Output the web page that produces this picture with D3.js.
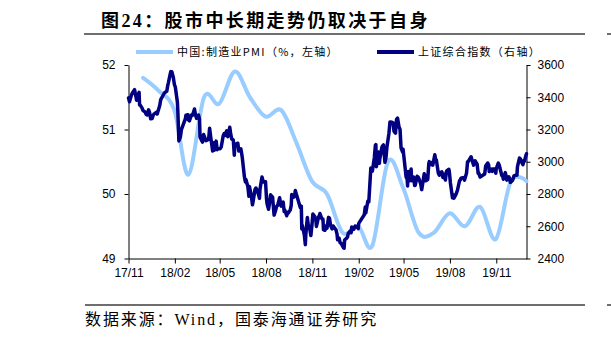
<!DOCTYPE html>
<html><head><meta charset="utf-8">
<script src="https://cdn.jsdelivr.net/npm/d3@7"></script>
<style>
html,body{margin:0;padding:0;background:#fff;}
svg{display:block;}
</style></head>
<body>
<svg id="c" width="611" height="338"></svg>
<script>
// ---- data ----
const titleText = "图24：股市中长期走势仍取决于自身";
const sourceText = "数据来源：Wind，国泰海通证券研究";
const seriesNames = ["中国:制造业PMI（%，左轴）", "上证综合指数（右轴）"];
const xTickLabels = ["17/11","18/02","18/05","18/08","18/11","19/02","19/05","19/08","19/11"];
const leftTicks = [49, 50, 51, 52];
const rightTicks = [2400, 2600, 2800, 3000, 3200, 3400, 3600];

const pmiMonths = ["2017-11","2017-12","2018-01","2018-02","2018-03","2018-04","2018-05","2018-06","2018-07","2018-08","2018-09","2018-10","2018-11","2018-12","2019-01","2019-02","2019-03","2019-04","2019-05","2019-06","2019-07","2019-08","2019-09","2019-10","2019-11","2019-12"];
const pmiValues = [51.8,51.6,51.3,50.3,51.5,51.4,51.9,51.5,51.2,51.3,50.8,50.2,50.0,49.4,49.5,49.2,50.5,50.1,49.4,49.4,49.7,49.5,49.8,49.3,50.2,50.2];

const sseDates = [
"2017-11-01","2017-11-03","2017-11-07","2017-11-10","2017-11-13","2017-11-16","2017-11-17","2017-11-22","2017-11-23","2017-11-24","2017-11-28","2017-11-30",
"2017-12-04","2017-12-06","2017-12-08","2017-12-11","2017-12-13","2017-12-15","2017-12-18","2017-12-20","2017-12-22","2017-12-26","2017-12-28","2017-12-29",
"2018-01-02","2018-01-04","2018-01-05","2018-01-09","2018-01-11","2018-01-12","2018-01-16","2018-01-18","2018-01-19","2018-01-23","2018-01-24","2018-01-26","2018-01-29","2018-01-31",
"2018-02-02","2018-02-06","2018-02-07","2018-02-09","2018-02-12","2018-02-14","2018-02-22","2018-02-23","2018-02-27","2018-02-28",
"2018-03-02","2018-03-06","2018-03-08","2018-03-12","2018-03-14","2018-03-16","2018-03-20","2018-03-22","2018-03-23","2018-03-26","2018-03-28","2018-03-30",
"2018-04-03","2018-04-04","2018-04-09","2018-04-11","2018-04-13","2018-04-17","2018-04-19","2018-04-20","2018-04-24","2018-04-26","2018-04-27",
"2018-05-02","2018-05-04","2018-05-08","2018-05-10","2018-05-11","2018-05-15","2018-05-17","2018-05-21","2018-05-23","2018-05-25","2018-05-28","2018-05-30","2018-05-31",
"2018-06-04","2018-06-06","2018-06-08","2018-06-12","2018-06-14","2018-06-15","2018-06-19","2018-06-21","2018-06-22","2018-06-26","2018-06-28","2018-06-29",
"2018-07-03","2018-07-05","2018-07-06","2018-07-10","2018-07-12","2018-07-13","2018-07-17","2018-07-19","2018-07-20","2018-07-24","2018-07-26","2018-07-27","2018-07-31",
"2018-08-02","2018-08-03","2018-08-06","2018-08-08","2018-08-10","2018-08-14","2018-08-16","2018-08-17","2018-08-20","2018-08-22","2018-08-24","2018-08-28","2018-08-30","2018-08-31",
"2018-09-04","2018-09-06","2018-09-07","2018-09-11","2018-09-13","2018-09-14","2018-09-18","2018-09-20","2018-09-21","2018-09-25","2018-09-27","2018-09-28",
"2018-10-08","2018-10-10","2018-10-11","2018-10-12","2018-10-16","2018-10-18","2018-10-19","2018-10-22","2018-10-24","2018-10-26","2018-10-29","2018-10-31",
"2018-11-02","2018-11-06","2018-11-08","2018-11-09","2018-11-13","2018-11-15","2018-11-16","2018-11-20","2018-11-22","2018-11-23","2018-11-26","2018-11-28","2018-11-30",
"2018-12-03","2018-12-05","2018-12-07","2018-12-10","2018-12-12","2018-12-14","2018-12-18","2018-12-20","2018-12-21","2018-12-24","2018-12-26","2018-12-28",
"2019-01-02","2019-01-03","2019-01-04","2019-01-08","2019-01-10","2019-01-11","2019-01-15","2019-01-17","2019-01-18","2019-01-22","2019-01-24","2019-01-25","2019-01-29","2019-01-31",
"2019-02-01","2019-02-12","2019-02-14","2019-02-15","2019-02-19","2019-02-21","2019-02-22","2019-02-25","2019-02-26","2019-02-28",
"2019-03-04","2019-03-06","2019-03-07","2019-03-08","2019-03-12","2019-03-14","2019-03-15","2019-03-19","2019-03-21","2019-03-22","2019-03-25","2019-03-27","2019-03-29",
"2019-04-02","2019-04-04","2019-04-08","2019-04-10","2019-04-12","2019-04-15","2019-04-17","2019-04-19","2019-04-22","2019-04-24","2019-04-26","2019-04-29","2019-04-30",
"2019-05-06","2019-05-08","2019-05-09","2019-05-10","2019-05-14","2019-05-16","2019-05-17","2019-05-21","2019-05-23","2019-05-24","2019-05-28","2019-05-30","2019-05-31",
"2019-06-04","2019-06-06","2019-06-11","2019-06-13","2019-06-14","2019-06-18","2019-06-20","2019-06-21","2019-06-25","2019-06-27","2019-06-28",
"2019-07-02","2019-07-04","2019-07-05","2019-07-09","2019-07-11","2019-07-12","2019-07-16","2019-07-18","2019-07-19","2019-07-23","2019-07-25","2019-07-26","2019-07-30","2019-07-31",
"2019-08-02","2019-08-06","2019-08-08","2019-08-09","2019-08-13","2019-08-15","2019-08-16","2019-08-20","2019-08-22","2019-08-23","2019-08-27","2019-08-29","2019-08-30",
"2019-09-03","2019-09-05","2019-09-06","2019-09-10","2019-09-12","2019-09-17","2019-09-19","2019-09-20","2019-09-24","2019-09-26","2019-09-27","2019-09-30",
"2019-10-09","2019-10-11","2019-10-15","2019-10-17","2019-10-18","2019-10-22","2019-10-24","2019-10-25","2019-10-29","2019-10-31",
"2019-11-01","2019-11-05","2019-11-07","2019-11-08","2019-11-12","2019-11-14","2019-11-15","2019-11-19","2019-11-21","2019-11-22","2019-11-26","2019-11-28","2019-11-29",
"2019-12-03","2019-12-05","2019-12-06","2019-12-10","2019-12-12","2019-12-13","2019-12-17","2019-12-19","2019-12-20","2019-12-24","2019-12-26","2019-12-27","2019-12-30","2019-12-31"
];
const sseValues = [
3396,3372,3415,3433,3447,3400,3382,3430,3352,3353,3333,3317,
3309,3294,3290,3322,3304,3266,3268,3288,3297,3306,3296,3307,
3349,3385,3392,3414,3425,3429,3437,3475,3488,3546,3559,3558,3523,3481,
3462,3371,3310,3129,3154,3199,3268,3289,3292,3259,
3254,3290,3288,3327,3291,3269,3290,3263,3153,3133,3122,3169,
3137,3131,3138,3208,3159,3067,3118,3071,3128,3075,3082,
3081,3091,3161,3175,3163,3192,3155,3214,3169,3141,3135,3041,3095,
3114,3115,3067,3080,3044,3022,2908,2875,2890,2845,2786,2847,
2786,2733,2747,2827,2837,2831,2798,2773,2829,2905,2882,2874,2876,
2768,2740,2705,2745,2795,2781,2705,2669,2698,2724,2729,2777,2737,2725,
2750,2691,2702,2665,2686,2682,2700,2730,2797,2781,2792,2821,
2716,2725,2583,2606,2547,2486,2550,2654,2604,2598,2542,2603,
2676,2659,2635,2599,2654,2668,2679,2645,2645,2579,2575,2602,2588,
2655,2649,2606,2584,2602,2594,2576,2549,2516,2527,2498,2494,
2465,2464,2515,2526,2535,2554,2570,2560,2596,2580,2592,2601,2595,2585,
2618,2671,2720,2682,2755,2751,2804,2961,2941,2941,
3027,3102,3106,2969,3061,2990,3022,3091,3101,3104,2997,3023,3091,
3177,3247,3245,3242,3189,3177,3263,3271,3215,3201,3086,3062,3078,
2906,2894,2850,2939,2883,2955,2882,2905,2853,2853,2910,2905,2899,
2862,2827,2925,2910,2882,2890,2987,3001,2982,2996,2979,
3043,3005,3012,2929,2917,2931,2937,2902,2924,2887,2938,2945,2953,2933,
2868,2777,2795,2774,2797,2815,2824,2881,2889,2898,2902,2894,2886,
2930,3000,2999,3021,3031,2979,3000,3006,2985,2929,2932,2905,
2924,2974,2992,2978,2939,2955,2940,2955,2955,2929,
2958,2992,2979,2964,2915,2909,2891,2933,2903,2886,2907,2889,2872,
2884,2899,2912,2917,2916,2968,3023,3017,3005,2982,3007,3005,3040,3050
];

// ---- chart ----
const svg = d3.select("#c");
const parseDay = d3.timeParse("%Y-%m-%d");
const parseMonth = d3.timeParse("%Y-%m");
const parseTick = d3.timeParse("%y/%m");

const pmi = pmiMonths.map((m,i)=>({d: d3.timeDay.offset(d3.timeMonth.offset(parseMonth(m),1),-1), v: pmiValues[i]}));
const sse = sseDates.map((s,i)=>({d: parseDay(s), v: sseValues[i]}));

const x0 = 128.5, x1 = 526.5, yTop = 65, yBot = 258.5;
const x = d3.scaleTime().domain([parseDay("2017-11-01"), parseDay("2019-12-31")]).range([x0, x1]);
const yL = d3.scaleLinear().domain([49, 52]).range([yBot, yTop]);
const yR = d3.scaleLinear().domain([2400, 3600]).range([yBot, yTop]);

const fontSans = "'Liberation Sans', Arial, 'Noto Sans CJK SC', sans-serif";
const fontSerif = "'Liberation Serif', 'Noto Sans CJK SC', serif";

// title
svg.append("text").attr("x", 101).attr("y", 27)
  .attr("font-family", fontSerif).attr("font-weight", "bold")
  .attr("font-size", 18).attr("letter-spacing", 2.4).attr("fill", "#000")
  .text(titleText);
svg.append("line").attr("x1", 84).attr("x2", 585).attr("y1", 34).attr("y2", 34)
  .attr("stroke", "#6e6e6e").attr("stroke-width", 2);
svg.append("line").attr("x1", 607).attr("x2", 611).attr("y1", 34).attr("y2", 34)
  .attr("stroke", "#6e6e6e").attr("stroke-width", 2);

// source
svg.append("line").attr("x1", 85).attr("x2", 585).attr("y1", 305).attr("y2", 305)
  .attr("stroke", "#6e6e6e").attr("stroke-width", 2);
svg.append("line").attr("x1", 607).attr("x2", 611).attr("y1", 305).attr("y2", 305)
  .attr("stroke", "#6e6e6e").attr("stroke-width", 2);
svg.append("text").attr("x", 85).attr("y", 325)
  .attr("font-family", fontSerif).attr("font-size", 16).attr("letter-spacing", 1.9)
  .attr("fill", "#000").text(sourceText);

// legend
const legend = [
  {x: 136, color: "#99ccff", w: 4, label: seriesNames[0]},
  {x: 377, color: "#000080", w: 4, label: seriesNames[1]}
];
legend.forEach(l => {
  svg.append("line").attr("x1", l.x).attr("x2", l.x + 37).attr("y1", 52).attr("y2", 52)
    .attr("stroke", l.color).attr("stroke-width", l.w);
  svg.append("text").attr("x", l.x + 41).attr("y", 56)
    .attr("font-family", "'Noto Sans CJK SC', sans-serif").attr("font-size", 11)
    .attr("letter-spacing", 1.3).attr("fill", "#000").text(l.label);
});

// axes
function styleAxis(g){
  g.selectAll("path, line").attr("stroke", "#000").attr("stroke-width", 1);
  g.selectAll("text").attr("font-family", fontSans).attr("font-size", 12).attr("fill", "#000");
}
svg.append("g").attr("transform", `translate(${x0},0)`)
  .call(d3.axisLeft(yL).tickValues(leftTicks).tickFormat(d3.format("d")).tickSizeInner(4).tickSizeOuter(0).tickPadding(9))
  .call(styleAxis);
svg.append("g").attr("transform", `translate(${x1},0)`)
  .call(d3.axisRight(yR).tickValues(rightTicks).tickFormat(d3.format("d")).tickSizeInner(4).tickSizeOuter(0).tickPadding(7))
  .call(styleAxis);
svg.append("g").attr("transform", `translate(0,${yBot})`)
  .call(d3.axisBottom(x).tickValues(xTickLabels.map(parseTick)).tickFormat(d3.timeFormat("%y/%m")).tickSizeInner(5).tickSizeOuter(0).tickPadding(5))
  .call(styleAxis);

// lines
svg.append("path").datum(pmi)
  .attr("fill", "none").attr("stroke", "#99ccff").attr("stroke-width", 4)
  .attr("stroke-linejoin", "round").attr("stroke-linecap", "round")
  .attr("d", d3.line().x(d=>x(d.d)).y(d=>yL(d.v)).curve(d3.curveCardinal.tension(0)));
svg.append("path").datum(sse)
  .attr("fill", "none").attr("stroke", "#000080").attr("stroke-width", 3.5)
  .attr("stroke-linejoin", "round").attr("stroke-linecap", "round")
  .attr("d", d3.line().x(d=>x(d.d)).y(d=>yR(d.v)));
</script>
</body></html>
